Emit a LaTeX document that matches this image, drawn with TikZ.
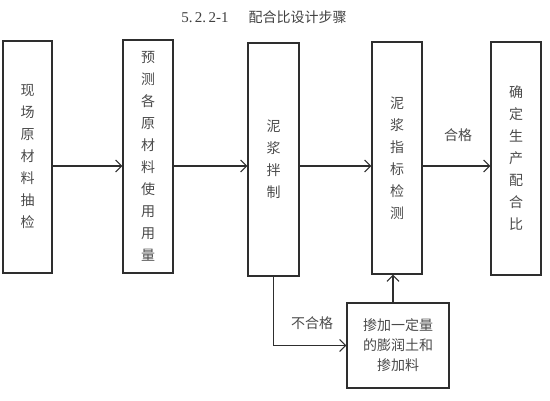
\documentclass[tikz,border=0pt]{standalone}
\usepackage{fontspec}
\setmainfont{Noto Sans CJK SC}
\newfontfamily\numfont{Liberation Serif}
\usetikzlibrary{arrows.meta}
\definecolor{linec}{HTML}{2E2E2E}
\definecolor{textc}{HTML}{4A4A4A}
\tikzset{
  box/.style={draw=linec, line width=1.3pt, inner sep=0pt, align=center, text=textc,
    font=\fontsize{14}{22}\selectfont},
  arr/.style={draw=linec, line width=1.1pt, -{Straight Barb[length=6pt,width=12pt,line width=1.1pt]}},
  lbl/.style={text=textc, font=\fontsize{14}{16}\selectfont, inner sep=0pt}
}
\begin{document}
\begin{tikzpicture}[x=1pt,y=-1pt]
\useasboundingbox (0,0) rectangle (550,401);
\node[lbl, text=black!75] (title) at (264,17) {{\numfont\fontsize{15}{16}\selectfont 5.\,2.\,2-1}\hspace{20pt}配合比设计步骤};
\node[box, minimum width=49, minimum height=232] (b1) at (27.5,157) {现\\场\\原\\材\\料\\抽\\检};
\node[box, minimum width=50, minimum height=233] (b2) at (148,156.5) {预\\测\\各\\原\\材\\料\\使\\用\\用\\量};
\node[box, minimum width=51, minimum height=233] (b3) at (273.5,159.5) {泥\\浆\\拌\\制};
\node[box, minimum width=50, minimum height=232] (b4) at (397,158) {泥\\浆\\指\\标\\检\\测};
\node[box, minimum width=50, minimum height=233] (b5) at (516,158.5) {确\\定\\生\\产\\配\\合\\比};
\node[box, minimum width=102, minimum height=85, font=\fontsize{14}{20}\selectfont] (b6) at (398,345.5) {掺加一定量\\的膨润土和\\掺加料};
\coordinate (ay) at (0,166);
\coordinate (ux) at (393,0);
\draw[arr] (b1.east |- ay) -- (b2.west |- ay);
\draw[arr] (b2.east |- ay) -- (b3.west |- ay);
\draw[arr] (b3.east |- ay) -- (b4.west |- ay);
\draw[arr] (b4.east |- ay) -- (b5.west |- ay);
\draw[arr] (b3.south) |- (b6.west);
\draw[arr] (b6.north -| ux) -- (b4.south -| ux);
\node[lbl] (ok) at (458,135) {合格};
\node[lbl] (nok) at (312,323) {不合格};
\end{tikzpicture}
\end{document}
